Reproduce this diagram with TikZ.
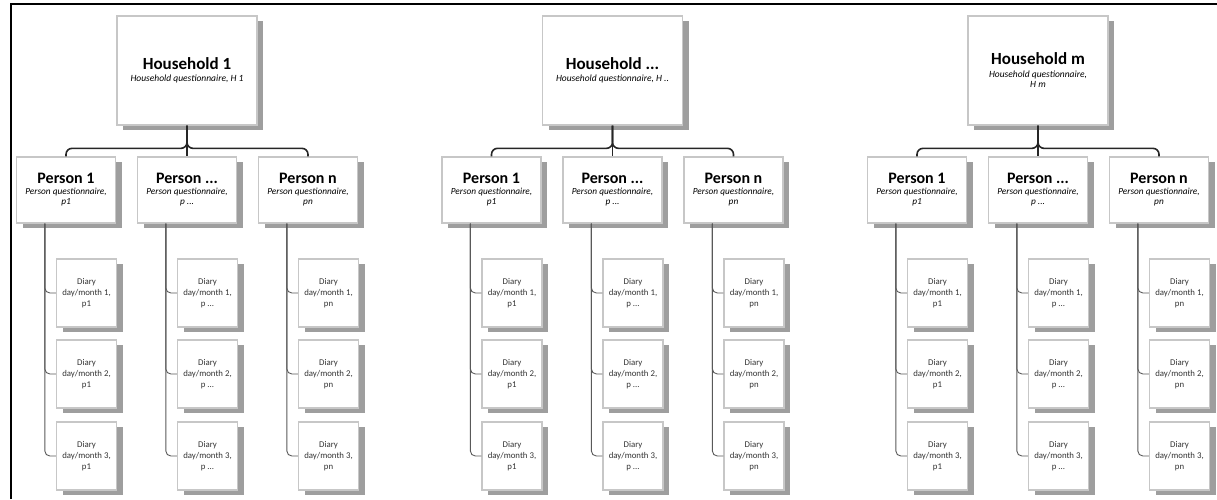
\documentclass[tikz,border=0pt]{standalone}
\usepackage{fontspec}
\setmainfont{Carlito}
\usetikzlibrary{shadows}
\begin{document}
\begin{tikzpicture}[x=1pt,y=-1pt,
  box/.style={draw=black!22, line width=1.3pt, fill=white, align=center, inner sep=0pt,
    drop shadow={shadow xshift=6pt, shadow yshift=-5pt, fill=black!38, opacity=1}},
  hhbox/.style={box, minimum width=140pt, minimum height=109pt,
    font=\fontsize{9.5}{10.5}\selectfont\itshape},
  personbox/.style={box, minimum width=99pt, minimum height=66pt,
    font=\fontsize{9.3}{10}\selectfont\itshape},
  diarybox/.style={box, minimum width=60pt, minimum height=68pt,
    font=\fontsize{8.8}{11}\selectfont, text=black!80},
  link/.style={draw=black!85, line width=1.6pt, rounded corners=6pt},
  trunk/.style={draw=black!65, line width=0.9pt, rounded corners=5pt},
  frame/.style={draw=black, line width=2pt},
]
\useasboundingbox (0,0) rectangle (1217,499);

% outer frame (top and left edges)
\coordinate (fb) at (11,499);
\coordinate (fc) at (11,3.5);
\coordinate (fr) at (1217,3.5);
\draw[frame] (fb) -- (fc) -- (fr);

\newcommand\titleA[1]{{\fontsize{17}{18}\selectfont\bfseries\upshape #1}}
\newcommand\titleB[1]{{\fontsize{16}{17}\selectfont\bfseries\upshape #1}}

\foreach \g/\gx/\hname/\hsub in {
    a/187/{Household 1}/{Household questionnaire, H 1},
    b/612.5/{Household ...}/{Household questionnaire, H ..},
    c/1038/{Household m}/{Household questionnaire,\\H m}}{
  % household
  \node[hhbox] (\g-hh) at (\gx,70.5) {\titleA{\hname}\\[2pt]\hsub};
  % persons with their diaries
  \foreach \p/\dx/\pname/\ptag in {
      1/-121/{Person 1}/p1,
      2/0/{Person ...}/{p ...},
      3/121/{Person n}/pn}{
    \node[personbox] (\g-p\p) at (\gx+\dx,190)
      {\titleB{\pname}\\[1pt]Person questionnaire,\\\ptag};
    \coordinate (\g-p\p-t) at ([xshift=29pt]\g-p\p.south west);
    \foreach \k/\dy in {1/293,2/374,3/456}{
      \node[diarybox] (\g-p\p-d\k) at (\gx+\dx+20.5,\dy)
        {Diary\\day/month \k,\\\ptag};
      \draw[trunk] (\g-p\p-t) |- (\g-p\p-d\k.west);
    }
  }
  % household to persons
  \draw[link] (\g-hh.south) |- ([yshift=8pt]\g-p1.north) -- (\g-p1.north);
  \draw[link] (\g-hh.south) -- (\g-p2.north);
  \draw[link] (\g-hh.south) |- ([yshift=8pt]\g-p3.north) -- (\g-p3.north);
}
\end{tikzpicture}
\end{document}
